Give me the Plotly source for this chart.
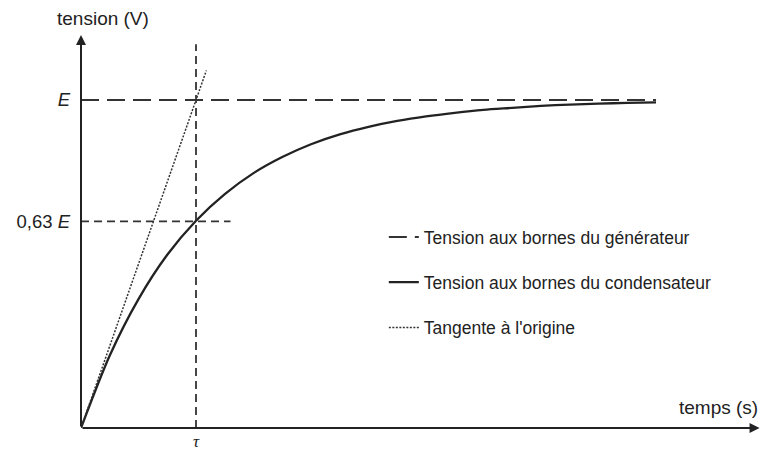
import plotly.graph_objects as go

# valeurs (temps en unites de tau, tension en unites de E)
t_condo = [0, 0.25, 0.5, 0.75, 1, 1.25, 1.5, 1.75, 2, 2.25, 2.5, 2.75, 3,
           3.25, 3.5, 3.75, 4, 4.25, 4.5, 4.75, 5]
u_condo = [0, 0.221, 0.393, 0.528, 0.632, 0.713, 0.777, 0.826, 0.865, 0.895, 0.918, 0.936, 0.95,
           0.961, 0.97, 0.976, 0.982, 0.986, 0.989, 0.991, 0.993]

t_gen = [0, 5]
u_gen = [1, 1]

t_tang = [0, 1.09]
u_tang = [0, 1.09]

t_063 = [0, 1.3]
u_063 = [0.63, 0.63]

t_tau = [1, 1]
u_tau = [0, 1.17]

y_ticks = [0.63, 1]
y_labels = ["0,63 <i>E</i>", "<i>E</i>"]
x_ticks = [1]
x_labels = ["<i>τ</i>"]

noir = "#222222"
gris = "#333333"
police = "Arial, Liberation Sans, sans-serif"

fig = go.Figure()

fig.add_trace(go.Scatter(
    x=t_gen, y=u_gen, mode="lines", name="Tension aux bornes du générateur",
    line=dict(color=gris, width=2, dash="18px,8px"), legendgroup="a"
))
fig.add_trace(go.Scatter(
    x=t_condo, y=u_condo, mode="lines", name="Tension aux bornes du condensateur",
    line=dict(color=noir, width=2.3, shape="spline", smoothing=0.8), legendgroup="b"
))
fig.add_trace(go.Scatter(
    x=t_tang, y=u_tang, mode="lines", name="Tangente à l'origine",
    line=dict(color=gris, width=1.5, dash="2px,1.5px"), legendgroup="c"
))
# lignes de construction (hors legende)
fig.add_trace(go.Scatter(
    x=t_063, y=u_063, mode="lines", showlegend=False,
    line=dict(color=gris, width=1.8, dash="8px,5px")
))
fig.add_trace(go.Scatter(
    x=t_tau, y=u_tau, mode="lines", showlegend=False,
    line=dict(color=gris, width=1.8, dash="8px,5px")
))

# axes avec fleches
fig.add_annotation(x=5.9, y=0, ax=0, ay=0, xref="x", yref="y", axref="x", ayref="y",
                   showarrow=True, arrowhead=2, arrowsize=1, arrowwidth=2, arrowcolor=noir, text="")
fig.add_annotation(x=0, y=1.198, ax=0, ay=0, xref="x", yref="y", axref="x", ayref="y",
                   showarrow=True, arrowhead=2, arrowsize=1, arrowwidth=2, arrowcolor=noir, text="")

fig.add_annotation(x=0, y=1.03, xref="x", yref="paper", text="tension (V)", showarrow=False,
                   xanchor="left", yanchor="middle", xshift=-26,
                   font=dict(family=police, size=19, color=noir))
fig.add_annotation(x=5.9, y=0.064, xref="x", yref="y", text="temps (s)", showarrow=False,
                   xanchor="right", yanchor="middle",
                   font=dict(family=police, size=19, color=noir))

fig.update_layout(
    width=765, height=453,
    margin=dict(l=81, r=5, t=30, b=25),
    paper_bgcolor="white", plot_bgcolor="white",
    showlegend=True,
    legend=dict(x=0.446, y=0.525, xanchor="left", yanchor="top",
                traceorder="grouped", tracegroupgap=19.5,
                font=dict(family=police, size=17.5, color=noir),
                bgcolor="rgba(0,0,0,0)"),
    xaxis=dict(range=[0, 5.904], showgrid=False, zeroline=False, showline=False,
               automargin=False,
               tickvals=x_ticks, ticktext=x_labels, ticks="", ticklabelstandoff=1,
               tickfont=dict(family="Liberation Serif, DejaVu Serif, serif", size=17, color=noir)),
    yaxis=dict(range=[0, 1.2134], showgrid=False, zeroline=False, showline=False,
               automargin=False,
               tickvals=y_ticks, ticktext=y_labels, ticks="", ticklabelstandoff=10,
               tickfont=dict(family=police, size=18.5, color=noir)),
)

# pas de marge autour de la page
fig.write_html("out.html", config={"displayModeBar": False},
               post_script="document.body.style.margin='0';")
